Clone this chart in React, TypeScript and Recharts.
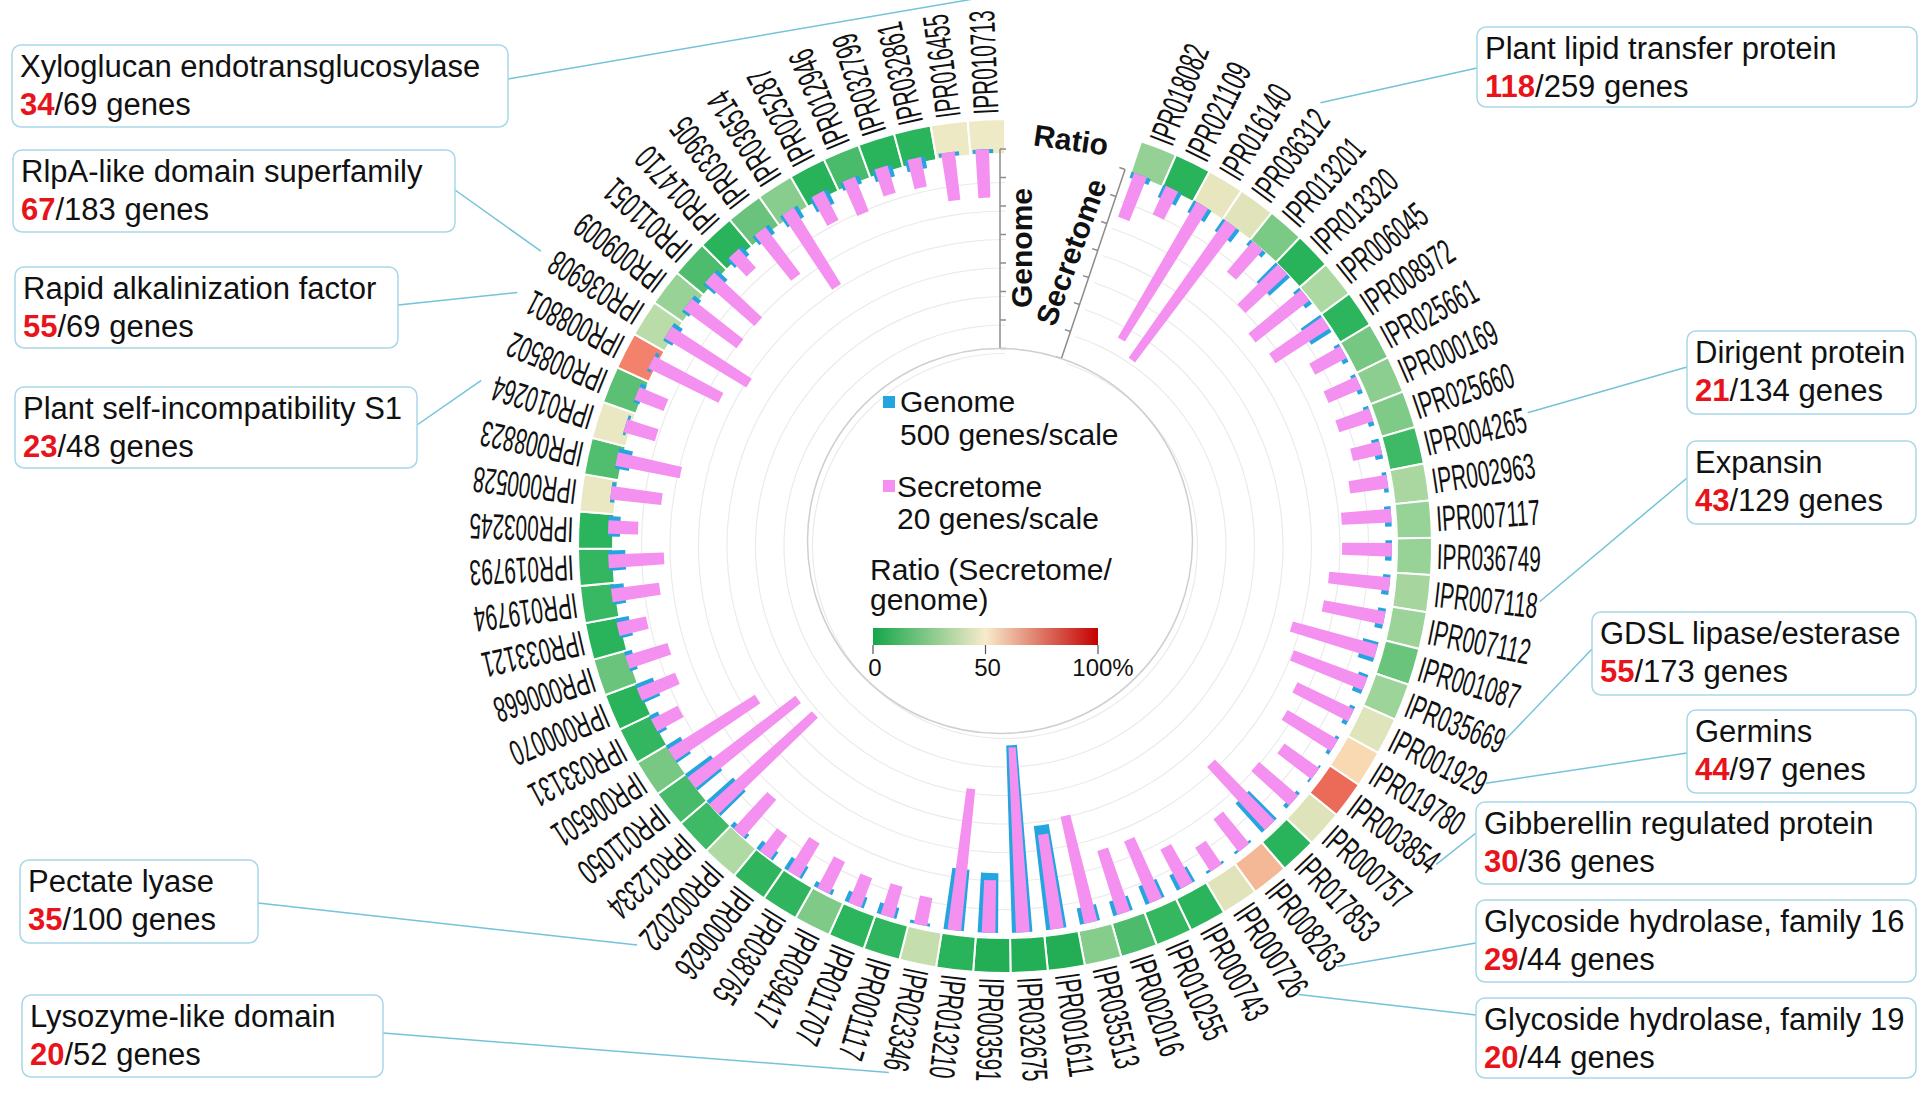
import React from "react";
import {
  PieChart, Pie, Cell, RadialBarChart, RadialBar, PolarAngleAxis, PolarRadiusAxis,
} from "recharts";

// InterPro domains, clockwise from the gap at the top
const domains = [
  "IPR018082", "IPR021109", "IPR016140", "IPR036312", "IPR013201", "IPR013320", "IPR006045", "IPR008972",
  "IPR025661", "IPR000169", "IPR025660", "IPR004265", "IPR002963", "IPR007117", "IPR036749", "IPR007118",
  "IPR007112", "IPR001087", "IPR035669", "IPR001929", "IPR019780", "IPR003854", "IPR000757", "IPR017853",
  "IPR008263", "IPR000726", "IPR000743", "IPR010255", "IPR002016", "IPR035513", "IPR001611", "IPR032675",
  "IPR003591", "IPR013210", "IPR023346", "IPR001117", "IPR011707", "IPR039417", "IPR038765", "IPR000626",
  "IPR002022", "IPR012334", "IPR011050", "IPR006501", "IPR033131", "IPR000070", "IPR000668", "IPR033121",
  "IPR019794", "IPR019793", "IPR003245", "IPR000528", "IPR008823", "IPR010264", "IPR008502", "IPR008801",
  "IPR036908", "IPR009009", "IPR011051", "IPR014710", "IPR033905", "IPR036514", "IPR025287", "IPR012946",
  "IPR032799", "IPR032861", "IPR016455", "IPR010713",
];

// genes per domain in the whole genome
const genome = [
  110, 240, 234, 259, 115, 480, 140, 420,
  105, 90, 100, 134, 80, 115, 115, 129,
  140, 280, 173, 97, 70, 36, 80, 690,
  44, 44, 300, 350, 265, 290, 1840, 3290,
  1050, 1085, 52, 200, 200, 100, 240, 170,
  100, 620, 560, 300, 170, 330, 140, 230,
  230, 300, 210, 75, 250, 48, 110, 69,
  183, 150, 255, 200, 186, 233, 280, 150,
  220, 210, 70, 69,
];

// genes per domain in the secretome
const secretome = [
  33, 22, 110, 118, 28, 40, 48, 45,
  25, 25, 25, 21, 27, 35, 35, 43,
  44, 62, 55, 44, 41, 30, 36, 60,
  29, 20, 31, 47, 47, 77, 67, 130,
  37, 100, 20, 23, 22, 25, 28, 20,
  35, 97, 95, 72, 21, 29, 31, 21,
  34, 39, 21, 36, 46, 23, 22, 55,
  67, 46, 46, 18, 41, 63, 23, 26,
  20, 21, 34, 34,
];

const genomeTicks = [0, 500, 1000, 1500, 2000, 2500, 3000, 3500];
const secretomeTicks = [0, 20, 40, 60, 80, 100, 120, 140];
const ratioTicks = ["0", "50", "100%"];

// highlighted families
const noteIds = [
  "IPR010713", "IPR036908", "IPR008801", "IPR010264", "IPR002022", "IPR023346",
  "IPR036312", "IPR004265", "IPR007118", "IPR035669", "IPR001929", "IPR003854", "IPR008263", "IPR000726",
];
const noteTitles = [
  "Xyloglucan endotransglucosylase", "RlpA-like domain superfamily", "Rapid alkalinization factor",
  "Plant self-incompatibility S1", "Pectate lyase", "Lysozyme-like domain",
  "Plant lipid transfer protein", "Dirigent protein", "Expansin", "GDSL lipase/esterase", "Germins",
  "Gibberellin regulated protein", "Glycoside hydrolase, family 16", "Glycoside hydrolase, family 19",
];

// layout of the boxes: x, y, w, h, anchor x, anchor y
const noteBoxes = [
  [12, 45, 496, 82, 508, 79], [13, 150, 442, 82, 455, 190], [15, 267, 383, 81, 398, 305],
  [15, 387, 402, 81, 417, 425], [20, 860, 238, 83, 258, 903], [22, 995, 361, 82, 383, 1033],
  [1477, 27, 440, 80, 1477, 68], [1687, 331, 229, 83, 1687, 367], [1687, 441, 229, 83, 1687, 478],
  [1592, 612, 324, 83, 1592, 649], [1687, 710, 229, 83, 1687, 753], [1476, 802, 440, 82, 1476, 833],
  [1476, 900, 440, 82, 1476, 943], [1476, 998, 440, 80, 1476, 1015],
];

const W = 1920, H = 1097;
const CX = 1000, CY = 541;
const R_IN = 392, R_OUT = 427, R_MIN = 192.5;
const START = 71.4, END = -270;
const RAD = Math.PI / 180;
const FONT = "'Liberation Sans', Arial, sans-serif";
const G_MAX = genomeTicks[genomeTicks.length - 1];
const S_MAX = secretomeTicks[secretomeTicks.length - 1];
const STEP = (START - END) / domains.length;
// radial bars sit one band counter-clockwise of the pie cells, so their chart is turned back by one band
const BAR_START = START - STEP, BAR_END = END - STEP;

const STOPS: [number, string][] = [
  [0, "#1fab52"], [10, "#2ab45b"], [15, "#3ab863"], [20, "#5bbf74"], [25, "#7fca87"],
  [32, "#9ed49a"], [38, "#c2dfac"], [45, "#dfe3b9"], [50, "#f2ebc8"], [58, "#f8dcb4"],
  [66, "#f5b897"], [80, "#f4806a"], [100, "#c00000"],
];
const rgb = (h: string) => [1, 3, 5].map((i) => parseInt(h.slice(i, i + 2), 16));
function ratioColor(v: number) {
  const t = Math.max(0, Math.min(100, v));
  for (let i = 0; i < STOPS.length - 1; i++) {
    const [a, ca] = STOPS[i];
    const [b, cb] = STOPS[i + 1];
    if (t <= b) {
      const f = (t - a) / (b - a);
      const x = rgb(ca), y = rgb(cb);
      return `rgb(${x.map((c, k) => Math.round(c + (y[k] - c) * f)).join(",")})`;
    }
  }
  return STOPS[STOPS.length - 1][1];
}

// bars hang inward from the ring: an empty stacked segment fills the space up to the value
const data = domains.map((name, i) => ({
  name,
  genome: genome[i],
  secretome: secretome[i],
  gSpace: G_MAX - genome[i],
  sSpace: S_MAX - secretome[i],
  ratio: (secretome[i] / genome[i]) * 100,
  slot: 1,
}));

const labelEnd = (id: string, r: number) => {
  const k = domains.indexOf(id);
  const a = (START - STEP * (k + 0.5)) * RAD;
  return [CX + r * Math.cos(a), CY - r * Math.sin(a)];
};

const renderLabel = (p: any) => {
  const r = p.outerRadius + 5;
  const x = p.cx + r * Math.cos(-p.midAngle * RAD);
  const y = p.cy + r * Math.sin(-p.midAngle * RAD);
  return (
    <text x={x} y={y} transform={`rotate(${-p.midAngle} ${x} ${y})`} fontSize={36}
      textLength={104} lengthAdjust="spacingAndGlyphs" dominantBaseline="central"
      fill="#111" fontFamily={FONT}>
      {domains[p.index]}
    </text>
  );
};

const GenomeTick = (p: any) => (
  <line x1={p.x} y1={p.y} x2={p.x + 6} y2={p.y} stroke="#8c8c8c" strokeWidth={1.5} />
);
const SecretomeTick = (p: any) => (
  <line x1={p.x} y1={p.y} x2={p.x - 6 * Math.sin(START * RAD)} y2={p.y - 6 * Math.cos(START * RAD)}
    stroke="#8c8c8c" strokeWidth={1.5} />
);

const layer: React.CSSProperties = { position: "absolute", left: 0, top: 0 };

export default function App() {
  const gridRadii = genomeTicks.map((t) => R_IN - ((R_IN - R_MIN) * t) / G_MAX);

  return (
    <div style={{ position: "absolute", left: 0, top: 0, width: W, height: H, background: "#fff", overflow: "hidden", fontFamily: FONT }}>
      {/* ring of ratio cells, labels and grid arcs */}
      <div style={layer}>
        <PieChart width={W} height={H}>
          {gridRadii.map((r, i) => (
            <Pie key={"g" + i} data={[{ v: 1 }]} dataKey="v" cx={CX} cy={CY}
              innerRadius={r - 0.6} outerRadius={r + 0.6} startAngle={START} endAngle={END}
              fill={i === 0 ? "#a0a0a0" : "#ebebeb"} stroke="none" isAnimationActive={false} />
          ))}
          <Pie data={data} dataKey="slot" nameKey="name" cx={CX} cy={CY}
            innerRadius={R_IN} outerRadius={R_OUT} startAngle={START} endAngle={END}
            stroke="#ffffff" strokeWidth={2} label={renderLabel} labelLine={false}
            isAnimationActive={false}>
            {data.map((d, i) => <Cell key={i} fill={ratioColor(d.ratio)} />)}
          </Pie>
        </PieChart>
      </div>

      {/* genome bars, 500 genes per scale */}
      <div style={layer}>
        <RadialBarChart width={W} height={H} cx={CX} cy={CY} innerRadius={R_MIN} outerRadius={R_IN}
          startAngle={BAR_START} endAngle={BAR_END} layout="centric" data={data} barCategoryGap="20%">
          <PolarAngleAxis type="category" dataKey="name" tick={false} axisLine={false} tickLine={false} />
          <PolarRadiusAxis type="number" domain={[0, G_MAX]} ticks={genomeTicks} tickCount={8}
            angle={90} axisLine={{ stroke: "#8c8c8c", strokeWidth: 1.5 }} tick={(p: any) => <GenomeTick {...p} />} />
          <RadialBar dataKey="gSpace" stackId="g" fill="none" fillOpacity={0} isAnimationActive={false} />
          <RadialBar dataKey="genome" stackId="g" fill="#25a5df" isAnimationActive={false} />
        </RadialBarChart>
      </div>

      {/* secretome bars, 20 genes per scale */}
      <div style={layer}>
        <RadialBarChart width={W} height={H} cx={CX} cy={CY} innerRadius={R_MIN} outerRadius={R_IN}
          startAngle={BAR_START} endAngle={BAR_END} layout="centric" data={data} barCategoryGap="32%">
          <PolarAngleAxis type="category" dataKey="name" tick={false} axisLine={false} tickLine={false} />
          <PolarRadiusAxis type="number" domain={[0, S_MAX]} ticks={secretomeTicks} tickCount={8}
            angle={START} axisLine={{ stroke: "#8c8c8c", strokeWidth: 1.5 }} tick={(p: any) => <SecretomeTick {...p} />} />
          <RadialBar dataKey="sSpace" stackId="s" fill="none" fillOpacity={0} isAnimationActive={false} />
          <RadialBar dataKey="secretome" stackId="s" fill="#f490ef" isAnimationActive={false} />
        </RadialBarChart>
      </div>

      {/* legend, axis titles and call-outs */}
      <svg width={W} height={H} style={{ ...layer, pointerEvents: "none" }} fontFamily={FONT}>
        <defs>
          <linearGradient id="ratioGrad" x1="0" x2="1" y1="0" y2="0">
            <stop offset="0" stopColor="#14a64a" />
            <stop offset="0.5" stopColor="#f8ebca" />
            <stop offset="1" stopColor="#c40000" />
          </linearGradient>
        </defs>
        <circle cx={CX} cy={CY} r={R_MIN} fill="none" stroke="#cfcfcf" strokeWidth={1.5} />

        <text x={1071} y={140} fontSize={30} fontWeight="bold" textAnchor="middle" dominantBaseline="central"
          transform="rotate(8 1071 140)" fill="#111">Ratio</text>
        <text x={1021} y={248} fontSize={30} fontWeight="bold" textAnchor="middle" dominantBaseline="central"
          transform="rotate(-90 1021 248)" fill="#111">Genome</text>
        <text x={1071} y={252} fontSize={30} fontWeight="bold" textAnchor="middle" dominantBaseline="central"
          transform="rotate(-70 1071 252)" fill="#111">Secretome</text>

        <rect x={883} y={396} width={12} height={12} fill="#25a5df" />
        <text x={900} y={412} fontSize={30} fill="#111">Genome</text>
        <text x={900} y={445} fontSize={30} fill="#111">500 genes/scale</text>
        <rect x={883} y={480} width={12} height={12} fill="#f490ef" />
        <text x={897} y={497} fontSize={30} fill="#111">Secretome</text>
        <text x={897} y={529} fontSize={30} fill="#111">20 genes/scale</text>
        <text x={870} y={580} fontSize={30} fill="#111">Ratio (Secretome/</text>
        <text x={870} y={610} fontSize={30} fill="#111">genome)</text>
        <rect x={873} y={628} width={225} height={17} fill="url(#ratioGrad)" />
        {ratioTicks.map((t, i) => {
          const x = 873 + i * 112.5;
          return (
            <g key={t}>
              <line x1={x} y1={645} x2={x} y2={654} stroke="#555" strokeWidth={1.2} />
              <text x={i === 2 ? x + 5 : x + 2} y={676} fontSize={24} textAnchor="middle" fill="#111">{t}</text>
            </g>
          );
        })}

        {noteIds.map((id, i) => {
          const [x, y, w, h, ax, ay] = noteBoxes[i];
          const k = domains.indexOf(id);
          const [ex, ey] = labelEnd(id, 543);
          return (
            <g key={id}>
              <line x1={ax} y1={ay} x2={ex} y2={ey} stroke="#74c3d9" strokeWidth={1.5} />
              <rect x={x} y={y} width={w} height={h} rx={9} fill="#fff" stroke="#a8d8e8" strokeWidth={1.5} />
              <text x={x + 8} y={y + 32} fontSize={31} fill="#111">{noteTitles[i]}</text>
              <text x={x + 8} y={y + 70} fontSize={31} fill="#111">
                <tspan fill="#e8141b" fontWeight="bold">{secretome[k]}</tspan>
                <tspan>/{genome[k]} genes</tspan>
              </text>
            </g>
          );
        })}
      </svg>
    </div>
  );
}
